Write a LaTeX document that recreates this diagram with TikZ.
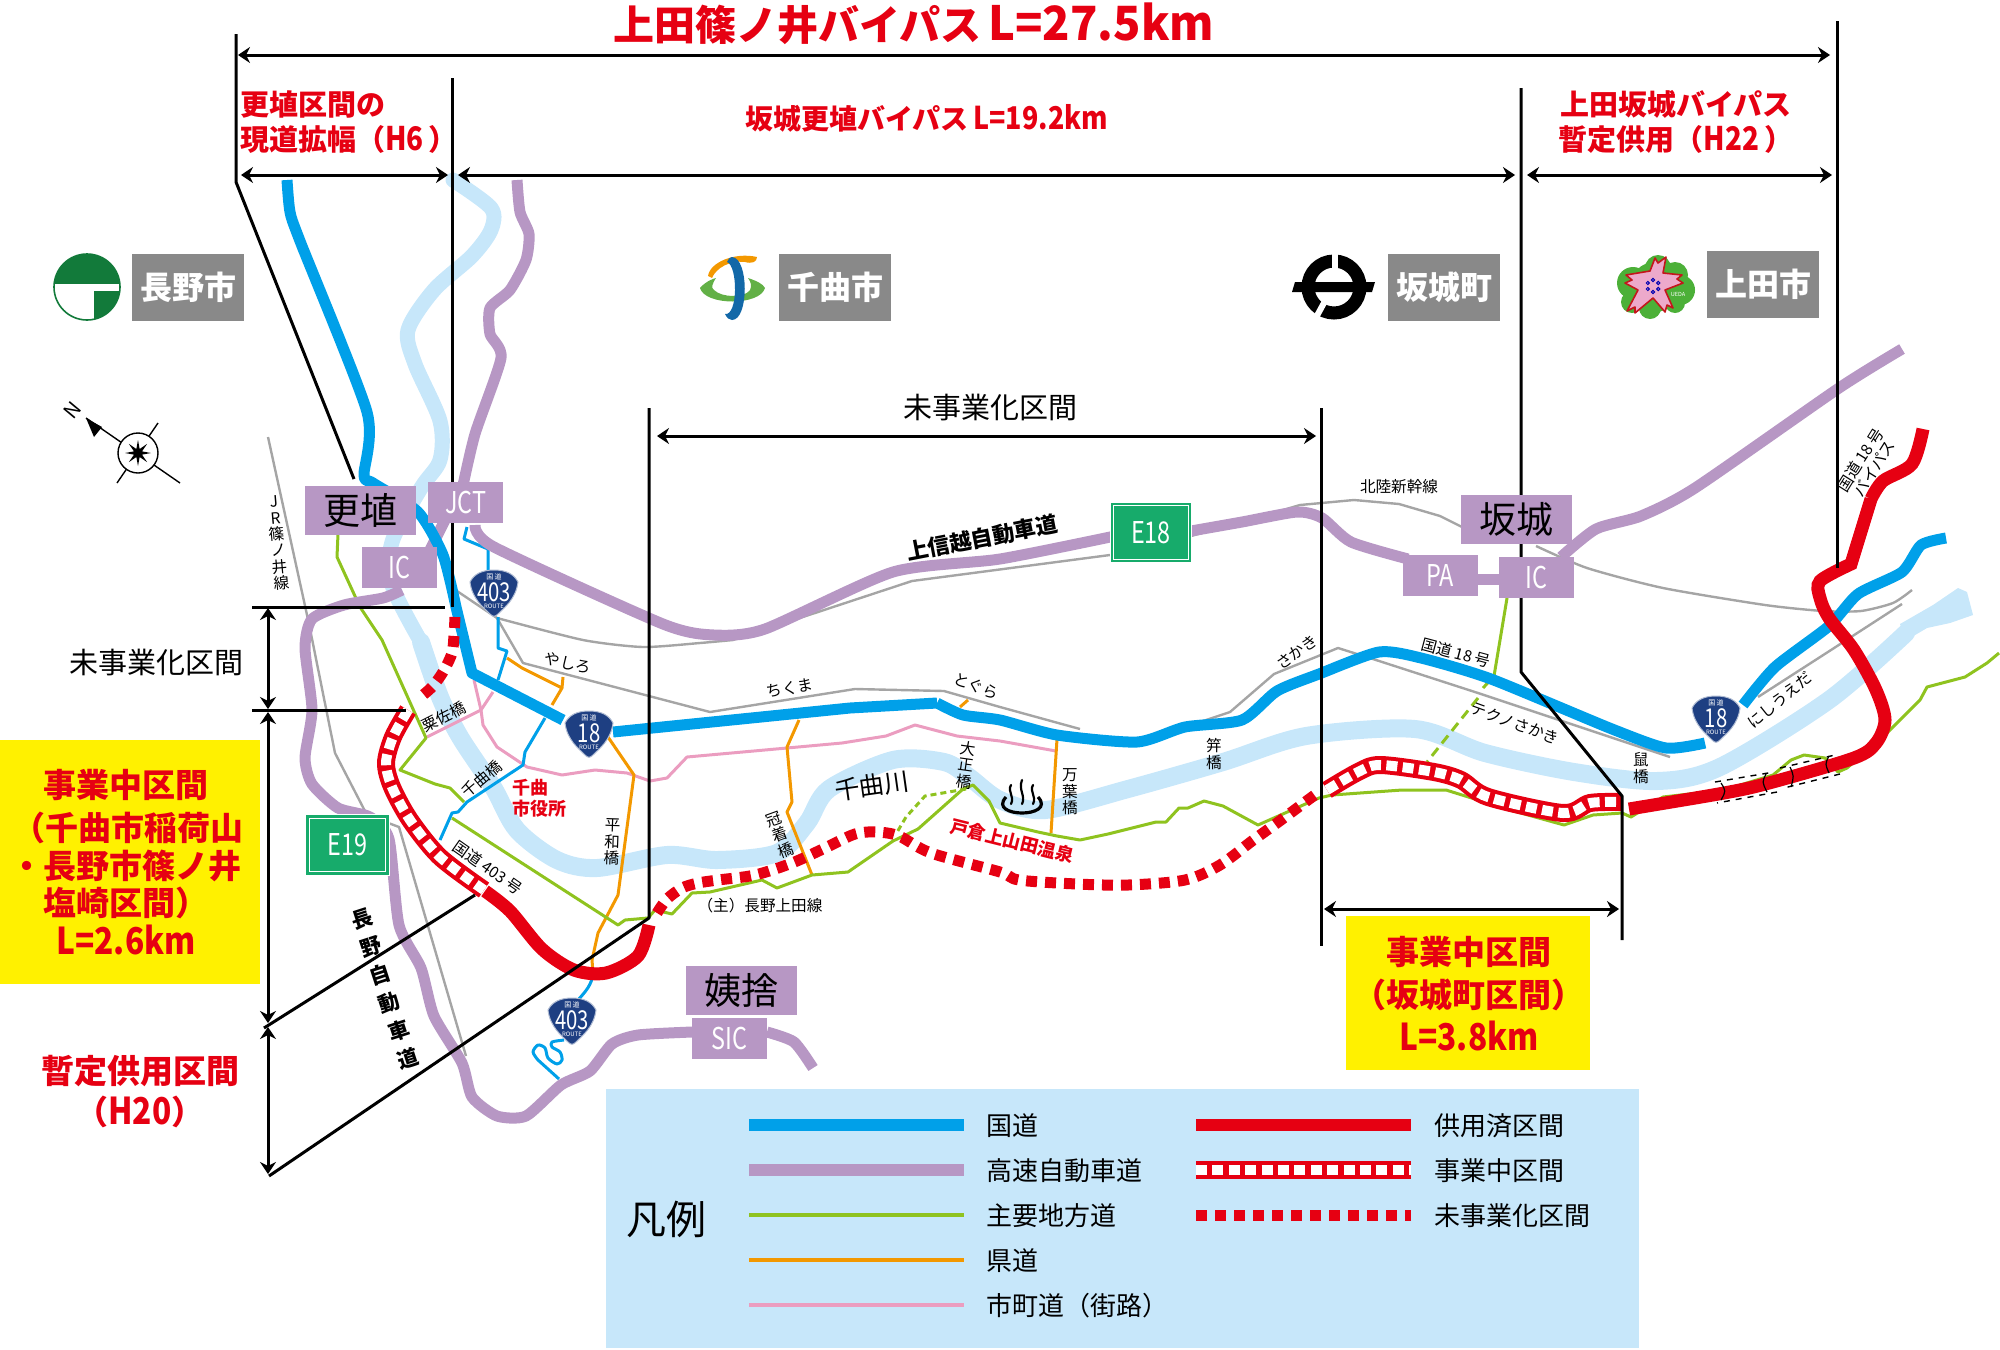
\documentclass[tikz,border=0pt]{standalone}
\usepackage{fontspec}
\setmainfont{Noto Sans CJK JP}
\usetikzlibrary{arrows.meta,shapes.geometric}
\definecolor{roadblue}{HTML}{00A0E9}
\definecolor{roadpurple}{HTML}{B797C4}
\definecolor{roadgreen}{HTML}{8FC31F}
\definecolor{roadorange}{HTML}{F39800}
\definecolor{roadpink}{HTML}{EB9DC0}
\definecolor{roadred}{HTML}{E60012}
\definecolor{riverblue}{HTML}{C7E7FA}
\definecolor{railgrey}{HTML}{A5A5A5}
\definecolor{cityboxgrey}{HTML}{898989}
\definecolor{signgreen}{HTML}{17AB6B}
\definecolor{shieldblue}{HTML}{1E3F82}
\definecolor{signyellow}{HTML}{FFF100}
\definecolor{logogreen}{HTML}{127A3A}
\definecolor{uedagreen}{HTML}{4CB038}
\definecolor{uedapink}{HTML}{EDA9CB}
\definecolor{uedared}{HTML}{C4161C}
\definecolor{chikumablue}{HTML}{1268A8}
\definecolor{chikumagreen}{HTML}{62B046}
\newcommand{\narrow}[1]{\scalebox{.78}[1]{#1}}
\newcommand{\latinred}[1]{\scalebox{.96}[1.12]{#1}}
\tikzset{
  riverline/.style={draw=riverblue,line width=9pt,line cap=round,line join=round},
  railline/.style={draw=railgrey,line width=1.2pt,line join=round},
  roadnat/.style={draw=roadblue,line width=5.5pt,line join=round},
  roadhwy/.style={draw=roadpurple,line width=5.5pt,line join=round},
  roadmain/.style={draw=roadgreen,line width=1.5pt,line join=round},
  roadpref/.style={draw=roadorange,line width=1.5pt,line join=round},
  roadcity/.style={draw=roadpink,line width=1.5pt,line join=round},
  roadthin/.style={draw=roadblue,line width=1.5pt,line join=round},
  openred/.style={draw=roadred,line width=6.5pt},
  buildred/.style={preaction={draw=roadred,solid,line width=9pt},draw=white,line width=5pt,dash pattern=on 5.5pt off 2.7pt},
  planred/.style={draw=roadred,line width=5.5pt,dash pattern=on 5.5pt off 4pt},
  dimline/.style={draw=black,line width=1.5pt,{Stealth[length=6pt,width=8pt]}-{Stealth[length=6pt,width=8pt]}},
  guideline/.style={draw=black,line width=1.5pt,line join=round},
  cityname/.style={fill=cityboxgrey,text=white,font=\fontsize{16}{18}\selectfont\bfseries,minimum width=56pt,minimum height=33.5pt,inner sep=0pt},
  placebox/.style={fill=roadpurple,text=black,font=\fontsize{18.5}{20}\selectfont,minimum width=55.5pt,minimum height=24.5pt,inner sep=0pt},
  icbox/.style={fill=roadpurple,text=white,font=\fontsize{15}{17}\selectfont,minimum width=37.5pt,minimum height=20.5pt,inner sep=0pt},
  signbox/.style={fill=signgreen,draw=white,line width=.6pt,double=signgreen,double distance=1.2pt,text=white,font=\fontsize{15}{17}\selectfont,inner sep=0pt},
  yellowbox/.style={fill=signyellow,inner sep=0pt},
  redtext/.style={text=roadred,font=\fontsize{14.5}{17}\selectfont\bfseries,inner sep=0pt},
  bigred/.style={text=roadred,font=\fontsize{16.5}{19}\selectfont\bfseries,inner sep=0pt},
  smalltext/.style={font=\fontsize{7.8}{8.2}\selectfont,inner sep=0pt,align=center},
  legendtext/.style={font=\fontsize{13}{15}\selectfont,anchor=west,inner sep=0pt},
}
\newcommand{\routeshield}[3]{% name, position, number
  \begin{scope}[shift={(#2)}]
    \fill[shieldblue,draw=white!65!shieldblue,line width=.5pt] (-24,-11) .. controls (-20,-19) and (-12,-23) .. (0,-23)
      .. controls (12,-23) and (20,-19) .. (24,-11) .. controls (22,6) and (10,15) .. (4,21)
      .. controls (1,24) and (-1,24) .. (-4,21) .. controls (-10,15) and (-22,6) .. (-24,-11) -- cycle;
    \node[text=white,inner sep=0pt,font=\fontsize{13}{13}\selectfont] (#1) at (0,-1) {\narrow{#3}};
    \node[text=white,inner sep=0pt,font=\fontsize{3.5}{4}\selectfont] (#1top) at (0,-16) {国\,道};
    \node[text=white,inner sep=0pt,font=\fontsize{3}{4}\selectfont] (#1bot) at (0,13) {ROUTE};
  \end{scope}}
\begin{document}
\begin{tikzpicture}[x=.5pt,y=-.5pt]
  \useasboundingbox (0,0) rectangle (2000,1349);
  % legend panel and yellow panels
  \node[fill=riverblue,inner sep=0pt,minimum width=516.5pt,minimum height=129.5pt,anchor=north west] (legendpanel) at (606,1089) {};
  \node[yellowbox,minimum width=130pt,minimum height=122pt,anchor=north west] (leftpanel) at (0,740) {};
  \node[yellowbox,minimum width=122pt,minimum height=77pt,anchor=north west] (rightpanel) at (1346,916) {};
  % river
  \draw[riverline,line width=7.5pt] plot[smooth,tension=.5] coordinates {(453,180) (491,208) (491,230) (472,256) (434,290) (408,330) (415,364) (440,421) (440,460) (421,488) (392,542) (392,585) (421,642)};
  \draw[riverline] plot[smooth,tension=.5] coordinates {(421,642) (440,697) (460,737) (493,787) (517,830) (557,860) (597,868) (667,855) (717,860) (777,853) (807,823) (829,789) (893,760) (944,762) (969,777) (1000,800) (1045,810) (1128,789) (1223,762) (1306,736) (1415,729) (1485,753) (1574,772) (1657,781) (1720,767) (1829,700) (1906,633)};
  \fill[riverblue] (1900,624) -- (1933,605) -- (1958,588) -- (1967,592) -- (1973,615) -- (1950,623) -- (1927,628) -- (1905,641) -- cycle;
  % rail lines and old road
  \draw[railline] (268,437) -- (309,624) -- (335,753) -- (367,815) -- (399,827) -- (466,1056);
  \draw[railline] (454,589) -- (497,618) plot[smooth,tension=.4] coordinates {(497,618) (583,640) (643,647) (700,643) (733,640)} -- (912,581) -- (1110,555);
  \draw[railline] (1191,536) -- (1242,522) -- (1300,505) -- (1354,500) -- (1399,504) -- (1440,516) -- (1462,527);
  \draw[railline] plot[smooth,tension=.4] coordinates {(1536,546) (1587,568) (1663,588) (1765,605) (1823,611) (1861,611) (1893,603) (1912,590)};
  \draw[railline] (497,618) -- (523,663) -- (710,712) -- (855,689) -- (944,691) -- (1000,707) -- (1080,729);
  \draw[railline] (1191,725) -- (1230,712) -- (1274,674) -- (1338,648) -- (1376,660) -- (1478,693) -- (1670,757);
  \draw[railline] (1758,697) -- (1831,650) -- (1902,604);
  % city roads
  \draw[roadcity] (474,680) -- (481,710) -- (483,725) -- (497,747) -- (527,767) -- (562,775) -- (595,770) -- (627,773) -- (650,781) -- (667,778) -- (687,757) -- (787,748) -- (842,743) -- (886,736) -- (915,725) -- (957,736) -- (1000,741) -- (1056,751);
  \draw[roadcity] (427,737) -- (481,710) -- (493,692);
  % prefectural roads
  \draw[roadpref] (507,658) -- (522,668) -- (562,688) -- (563,677) (562,688) -- (552,705);
  \draw[roadpref] (608,737) -- (634,775) -- (618,895) -- (598,933) -- (592,960) -- (593,973);
  \draw[roadpref] (799,720) -- (787,747) -- (792,802) -- (787,812) -- (812,875);
  \draw[roadpref] (968,700) -- (960,707);
  \draw[roadpref] (1057,739) -- (1051,833);
  % main local roads
  \draw[roadmain] (338,534) -- (337,557) -- (360,607) -- (382,640) -- (426,738) -- (400,770) -- (435,784) -- (450,788) -- (464,802);
  \draw[roadmain] (452,818) -- (618,925) -- (625,920) -- (648,918) -- (655,910) -- (672,914) -- (692,893) -- (710,892) -- (762,880) -- (777,888) -- (812,875) -- (848,872) -- (893,841) -- (918,829) -- (963,789) -- (973,785) -- (989,801) -- (1000,823) -- (1038,832) -- (1057,836) -- (1080,840) -- (1108,834) -- (1156,822) -- (1166,822) -- (1179,808) -- (1188,808) -- (1204,801) -- (1223,806) -- (1258,825) -- (1319,798) -- (1332,795) -- (1402,790) -- (1446,790) -- (1510,810) -- (1564,825) -- (1593,815) -- (1622,813) -- (1631,817) -- (1663,797) -- (1724,790) -- (1773,775) -- (1791,760) -- (1804,755) -- (1825,758) -- (1838,772) -- (1847,768) -- (1885,735) -- (1920,700) -- (1927,687) -- (1965,677) -- (1987,663) -- (1999,653);
  \draw[roadmain] (1507,598) -- (1494,676) -- (1483,688);
  \draw[roadmain,dash pattern=on 5pt off 3pt] (1478,698) -- (1427,762);
  \draw[roadmain,dash pattern=on 3pt off 2pt] (966,789) -- (925,796) -- (906,817) -- (896,834);
  % route 403 thin line
  \draw[roadthin] (467,527) -- (464,539) -- (488,549) -- (488,572);
  \draw[roadthin] (498,617) -- (498,648) -- (507,651) -- (498,680);
  \draw[roadthin] (545,718) -- (525,752) -- (523,765) -- (467,802) -- (458,812) -- (452,813) -- (440,840);
  \draw[roadthin] (593,973) .. controls (592,985) and (585,992) .. (578,1000);
  \draw[roadthin] plot[smooth,tension=.5] coordinates {(564,1040) (552,1042) (552,1047) (560,1052) (562,1060) (557,1064) (548,1058) (545,1048) (538,1045) (533,1052) (538,1060)} -- (559,1079);
  % expressway
  \draw[roadhwy] plot[smooth,tension=.4] coordinates {(517,180) (520,212) (529,234) (526,260) (510,290) (490,308) (490,334) (501,358) (475,434) (462,490)};
  \draw[roadhwy] plot[smooth,tension=.4] coordinates {(475,525) (494,547) (663,624) (714,635) (765,629) (893,572) (1000,559) (1115,536)};
  \draw[roadhwy] plot[smooth,tension=.4] coordinates {(1191,531) (1242,522) (1297,512) (1322,518) (1351,542) (1408,559)};
  \draw[roadhwy] (1478,579) -- (1499,579);
  \draw[roadhwy] plot[smooth,tension=.4] coordinates {(1561,557) (1596,529) (1641,516) (1695,488) (1839,388) (1902,349)};
  \draw[roadhwy] (420,570) -- (445,520);
  \draw[roadhwy] plot[smooth,tension=.4] coordinates {(402,590) (383,598) (344,605) (312,619) (305,648) (312,710) (305,758) (312,784) (338,808) (370,817) (389,839) (399,925) (421,968) (434,1016) (462,1063) (472,1097) (497,1116) (526,1116) (561,1085) (590,1071) (612,1044) (638,1035) (692,1032)};
  \draw[roadhwy] plot[smooth,tension=.4] coordinates {(767,1032) (794,1042) (813,1068)};
  % national road
  \draw[roadnat] plot[smooth,tension=.4] coordinates {(287,180) (290,212) (300,241) (367,412) (364,475) (373,483) (418,512) (443,555) (456,607)} -- (472,673) -- (563,720);
  \draw[roadnat] (613,732) -- (850,708) -- (937,703) plot[smooth,tension=.4] coordinates {(937,703) (963,715) (1000,720) (1057,735) (1137,742) (1185,727) (1242,720) (1277,691) (1319,674) (1379,652) (1421,658) (1491,679) (1612,729) (1666,748) (1705,743)};
  \draw[roadnat] plot[smooth,tension=.4] coordinates {(1743,705) (1775,667) (1829,626) (1858,594) (1902,572) (1921,545) (1946,538)};
  % bypass sections
  \draw[openred] plot[smooth,tension=.5] coordinates {(485,891) (510,911) (542,949) (574,970) (606,973) (638,956) (649,925)};
  \draw[openred] plot[smooth,tension=.5] coordinates {(1629,809) (1724,793) (1769,783) (1854,758) (1876,743) (1885,720) (1876,690) (1854,650) (1829,618) (1820,598) (1820,581) (1851,564)} -- (1871,499) plot[smooth,tension=.5] coordinates {(1871,499) (1883,481) (1912,464) (1923,429)};
  \draw[buildred] plot[smooth,tension=.5] coordinates {(408,710) (393,737) (386,763) (392,787) (410,820) (440,857) (484,890)};
  \draw[buildred] plot[smooth,tension=.5] coordinates {(1327,790) (1358,772) (1380,765) (1434,772) (1461,780) (1488,797) (1563,813) (1590,803) (1621,802)};
  \draw[planred] plot[smooth,tension=.5] coordinates {(455,617) (454,635) (452,653) (443,672) (432,687) (418,699)};
  \draw[planred] plot[smooth,tension=.5] coordinates {(657,913) (667,899) (682,888) (698,883) (718,880) (755,875) (792,863) (825,848) (855,834) (877,832) (899,836) (931,853) (1000,872) (1019,880) (1077,884) (1128,885) (1185,880) (1220,865) (1252,841) (1281,820) (1316,794)};
  % tunnels
  \draw[black,line width=.7pt,dashed] (1715,782) -- (1774,772) (1777,792) -- (1717,803);
  \draw[black,line width=.7pt,dashed] (1780,768) -- (1835,755) (1840,774) -- (1784,788);
  \draw[black,line width=.6pt] (1721,783) .. controls (1726,791) .. (1721,800) (1766,774) .. controls (1762,782) .. (1767,792) (1790,767) .. controls (1794,776) .. (1791,787) (1829,756) .. controls (1825,764) .. (1829,773);
  % guide lines and dimension arrows
  \draw[guideline] (236,34) -- (236,182) -- (354,479);
  \draw[guideline] (452,78) -- (452,607);
  \draw[guideline] (1837,21) -- (1837,568);
  \draw[guideline] (1521,88) -- (1521,672) -- (1622,796) -- (1622,940);
  \draw[guideline] (649,408) -- (649,918) -- (269,1176);
  \draw[guideline] (1321,408) -- (1321,946);
  \draw[guideline] (252,607) -- (445,607);
  \draw[guideline] (252,710) -- (406,710);
  \draw[guideline] (264,1028) -- (475,895);
  \draw[dimline] (238,55) -- (1830,55);
  \draw[dimline] (241,175) -- (448,175);
  \draw[dimline] (458,175) -- (1515,175);
  \draw[dimline] (1527,175) -- (1832,175);
  \draw[dimline] (657,436) -- (1316,436);
  \draw[dimline] (1324,909) -- (1619,909);
  \draw[dimline] (268,608) -- (268,709);
  \draw[dimline] (268,712) -- (268,1023);
  \draw[dimline] (268,1027) -- (268,1174);
  % city logos
  \begin{scope}
    \clip (87,287) circle[radius=33];
    \fill[logogreen] (54,254) rectangle (120,284);
    \fill[logogreen] (94,291) rectangle (120,320);
  \end{scope}
  \draw[logogreen,line width=.8pt] (87,287) circle[radius=33];
  \fill[roadorange] (708,276) .. controls (710,262) and (735,252) .. (757,257) .. controls (757,262) and (752,264) .. (745,262) .. controls (730,260) and (716,268) .. (712,278) -- cycle;
  \fill[chikumagreen] (700,288) .. controls (705,282) and (712,279) .. (716,278) .. controls (712,284) and (711,288) .. (714,290) .. controls (722,298) and (745,298) .. (750,290) .. controls (752,286) and (751,282) .. (748,278) .. controls (757,281) and (763,284) .. (765,288) .. controls (760,306) and (705,306) .. (700,288) -- cycle;
  \fill[chikumablue] (732,257) .. controls (749,258) and (749,320) .. (732,320) .. controls (729,320) and (727,318) .. (725,314) .. controls (738,316) and (738,266) .. (727,262) .. controls (728,259) and (730,257) .. (732,257) -- cycle;
  \draw[line width=6.5pt] (1334,287) circle[radius=26];
  \fill[white] (1332,250) rectangle (1338,276);
  \draw[white,line width=3pt] (1325,301) -- (1313,323);
  \fill (1295,282) -- (1375,282) -- (1372,292) -- (1292,292) -- cycle;
  \fill[uedagreen] (1655,287) circle[radius=25] (1658,268) circle[radius=13] (1675,275) circle[radius=13] (1680,290) circle[radius=15] (1675,303) circle[radius=10] (1650,308) circle[radius=11] (1632,302) circle[radius=11] (1633,283) circle[radius=16];
  \draw[fill=uedapink,draw=uedared,line width=.8pt,line join=round] (1650,271) -- (1655,258) -- (1658,263) -- (1666,257) -- (1663,273) -- (1682,275) -- (1677,279) -- (1683,283) -- (1665,290) -- (1673,308) -- (1667,305) -- (1665,312) -- (1653,298) -- (1635,313) -- (1635,307) -- (1627,311) -- (1638,290) -- (1625,283) -- (1632,280) -- (1626,275) -- cycle;
  \foreach \dotang in {30,90,...,330}
    \draw[blue!70!black,line width=.5pt] (1653,286) ++(\dotang:6) circle[radius=1.6];
  \node[text=white,font=\fontsize{2.8}{3}\selectfont,inner sep=0pt] (uedamark) at (1678,294) {UEDA};
  \node[cityname] (nagano) at (188,287) {長野市};
  \node[cityname] (chikuma) at (835,287) {千曲市};
  \node[cityname] (sakaki) at (1444,287) {坂城町};
  \node[cityname] (ueda) at (1763,284) {上田市};
  % compass
  \draw[line width=.7pt] (86,418) -- (180,483) (158,423) -- (117,483);
  \fill (86,418) -- (94,437) -- (102,427) -- cycle;
  \draw[fill=white,line width=.7pt] (138,453) circle[radius=20];
  \node[star,star points=8,star point ratio=3,minimum size=13pt,inner sep=0pt,fill=black] (compassstar) at (138,453) {};
  \node[font=\fontsize{10}{10}\selectfont,rotate=50,inner sep=0pt] (compassn) at (73,410) {N};
  % interchange boxes
  \node[placebox] (koshoku) at (360.5,510) {更埴};
  \node[icbox] (jct) at (465.5,502.5) {\narrow{JCT}};
  \node[icbox] (ictop) at (399.5,567.5) {\narrow{IC}};
  \node[placebox] (sakakiic) at (1516,519.5) {坂城};
  \node[icbox] (pa) at (1440,575.5) {\narrow{PA}};
  \node[icbox] (icright) at (1536.5,577.5) {\narrow{IC}};
  \node[placebox] (obasute) at (741.5,990) {姨捨};
  \node[icbox] (sic) at (729.5,1038.5) {\narrow{SIC}};
  \node[signbox,minimum width=39pt,minimum height=28.5pt] (e18) at (1151,532.5) {\narrow{E18}};
  \node[signbox,minimum width=40pt,minimum height=28.5pt] (e19) at (347.5,845) {\narrow{E19}};
  \routeshield{rtnorth}{494,593}{403}
  \routeshield{rtsouth}{572,1021}{403}
  \routeshield{rtleft}{589,734}{18}
  \routeshield{rtright}{1716,719}{18}
  % red headings
  \node[text=roadred,font=\fontsize{20.5}{24}\selectfont\bfseries,inner sep=0pt,anchor=west] (titletotal) at (613,24) {上田篠ノ井バイパス\,\scalebox{1.1}[1.15]{L=27.5km}};
  \node[redtext,anchor=west] (koshokuA) at (240,104) {更埴区間の};
  \node[redtext,anchor=west] (koshokuB) at (240,139) {現道拡幅（\latinred{H6}\,）};
  \node[redtext,anchor=west,font=\fontsize{14}{17}\selectfont\bfseries] (sakakititle) at (745,118) {坂城更埴バイパス\,\latinred{L=19.2km}};
  \node[redtext] (uedaA) at (1676,104) {上田坂城バイパス};
  \node[redtext] (uedaB) at (1676,139) {暫定供用（\latinred{H22}\,）};
  \node[bigred] (leftA) at (126,785) {事業中区間};
  \node[bigred] (leftB) at (128,828) {（千曲市稲荷山};
  \node[bigred] (leftC) at (126,866) {・長野市篠ノ井};
  \node[bigred] (leftD) at (126,903) {塩崎区間）};
  \node[bigred] (leftE) at (126,940) {\latinred{L=2.6km}};
  \node[bigred] (tempA) at (140,1071) {暫定供用区間};
  \node[bigred] (tempB) at (140,1112) {（\latinred{H20}）};
  \node[bigred] (rightA) at (1469,952) {事業中区間};
  \node[bigred] (rightB) at (1469,995) {（坂城町区間）};
  \node[bigred] (rightC) at (1469,1036) {\latinred{L=3.8km}};
  % black labels
  \node[font=\fontsize{14.5}{16}\selectfont,inner sep=0pt] (plantop) at (990,408) {未事業化区間};
  \node[font=\fontsize{14.5}{16}\selectfont,inner sep=0pt] (planleft) at (156,662) {未事業化区間};
  \node[font=\bfseries\fontsize{11}{12}\selectfont,rotate=11,inner sep=0pt] (joshinetsu) at (982,538) {上信越自動車道};
  \node[font=\bfseries\fontsize{10.5}{14.7}\selectfont,rotate=18,align=center,inner sep=0pt] (naganoexp) at (385,989) {長\\野\\自\\動\\車\\道};
  \node[font=\fontsize{12.5}{14}\selectfont,rotate=8,inner sep=0pt] (chikumariver) at (872,786) {千曲川};
  \node[smalltext,rotate=5] (jrline) at (278,543) {J\\R\\篠\\ノ\\井\\線};
  \node[smalltext,rotate=-12] (yashiro) at (568,663) {やしろ};
  \node[smalltext,rotate=10] (chikumast) at (790,688) {ちくま};
  \node[smalltext,rotate=-20] (togura) at (976,686) {とぐら};
  \node[smalltext,rotate=35] (sakakist) at (1297,652) {さかき};
  \node[smalltext,rotate=-15] (rt18label) at (1456,653) {国道 18 号};
  \node[smalltext,rotate=-20] (techno) at (1515,723) {テクノさかき};
  \node[smalltext,rotate=40] (nishiueda) at (1780,700) {にしうえだ};
  \node[smalltext] (shinkansen) at (1399,487) {北陸新幹線};
  \node[smalltext,rotate=58] (bypasslabel) at (1867,464) {国道 18 号\\バイパス};
  \node[smalltext,rotate=27] (awasa) at (444,717) {粟佐橋};
  \node[smalltext,rotate=40] (chikumabr) at (482,779) {千曲橋};
  \node[smalltext,rotate=-35] (rt403label) at (488,868) {国道 403 号};
  \node[smalltext,rotate=-2] (heiwa) at (612,842) {平\\和\\橋};
  \node[smalltext,rotate=20] (kamuriki) at (780,835) {冠\\着\\橋};
  \node[smalltext,rotate=-8] (taisho) at (966,765) {大\\正\\橋};
  \node[smalltext] (manyo) at (1070,792) {万\\葉\\橋};
  \node[smalltext] (kogai) at (1214,754) {笄\\橋};
  \node[smalltext] (nezumi) at (1641,768) {鼠\\橋};
  \node[smalltext] (mainroad) at (760,906) {（主）長野上田線};
  \node[text=roadred,font=\bfseries\fontsize{9}{10.5}\selectfont,align=left,inner sep=0pt,anchor=west] (cityhall) at (512,798) {千曲\\市役所};
  \node[text=roadred,font=\bfseries\fontsize{9}{10}\selectfont,rotate=-14,inner sep=0pt] (togurahot) at (1012,841) {戸倉上山田温泉};
  % hot spring mark
  \draw[line width=1.1pt,line cap=round] (1011,785) .. controls (1007,792) and (1015,796) .. (1011,804) (1022,780) .. controls (1018,790) and (1026,796) .. (1022,804) (1033,785) .. controls (1029,792) and (1037,796) .. (1033,804);
  \draw[line width=1.6pt] (1006,797) .. controls (996,808) and (1010,813) .. (1022,813) .. controls (1034,813) and (1048,808) .. (1038,797);
  % legend
  \node[font=\fontsize{20}{22}\selectfont,inner sep=0pt] (legendtitle) at (666,1219) {凡例};
  \coordinate (keyLa) at (749,1125); \coordinate (keyLb) at (964,1125);
  \coordinate (keyMa) at (749,1170); \coordinate (keyMb) at (964,1170);
  \coordinate (keyNa) at (749,1215); \coordinate (keyNb) at (964,1215);
  \coordinate (keyOa) at (749,1260); \coordinate (keyOb) at (964,1260);
  \coordinate (keyPa) at (749,1305); \coordinate (keyPb) at (964,1305);
  \draw[roadnat,line width=6pt] (keyLa) -- (keyLb);
  \draw[roadhwy,line width=6pt] (keyMa) -- (keyMb);
  \draw[roadmain,line width=1.8pt] (keyNa) -- (keyNb);
  \draw[roadpref,line width=1.8pt] (keyOa) -- (keyOb);
  \draw[roadcity,line width=1.8pt] (keyPa) -- (keyPb);
  \coordinate (keyQa) at (1196,1125); \coordinate (keyQb) at (1411,1125);
  \coordinate (keyRa) at (1196,1170); \coordinate (keyRb) at (1411,1170);
  \coordinate (keySa) at (1196,1215); \coordinate (keySb) at (1411,1215);
  \draw[openred,line width=6pt] (keyQa) -- (keyQb);
  \draw[buildred] (keyRa) -- (keyRb);
  \draw[planred] (keySa) -- (keySb);
  \node[legendtext] (keyL) at (986,1126) {国道};
  \node[legendtext] (keyM) at (986,1171) {高速自動車道};
  \node[legendtext] (keyN) at (986,1216) {主要地方道};
  \node[legendtext] (keyO) at (986,1261) {県道};
  \node[legendtext] (keyP) at (986,1306) {市町道（街路）};
  \node[legendtext] (keyQ) at (1434,1126) {供用済区間};
  \node[legendtext] (keyR) at (1434,1171) {事業中区間};
  \node[legendtext] (keyS) at (1434,1216) {未事業化区間};
\end{tikzpicture}
\end{document}
